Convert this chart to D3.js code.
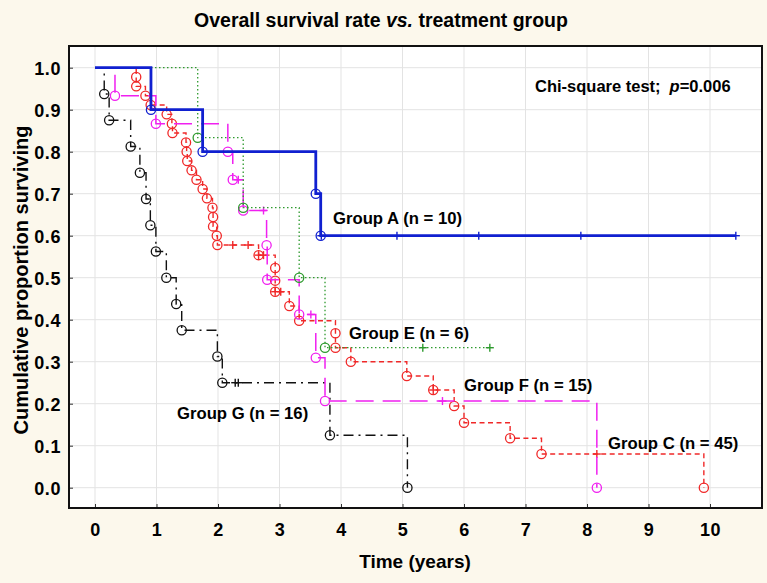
<!DOCTYPE html>
<html>
<head>
<meta charset="utf-8">
<script src="https://cdn.jsdelivr.net/npm/d3@7"></script>
<style>
  html, body { margin: 0; padding: 0; background: #FCF8EC; }
  svg { display: block; }
  text { font-family: "Liberation Sans", Arial, sans-serif; font-weight: bold; fill: #000; }
</style>
</head>
<body>
<svg id="chart" width="767" height="583"></svg>
<script>
// ---------------- data ----------------
const xTickValues = [0, 1, 2, 3, 4, 5, 6, 7, 8, 9, 10];
const yTickValues = [0, 0.1, 0.2, 0.3, 0.4, 0.5, 0.6, 0.7, 0.8, 0.9, 1.0];

// Group A (n = 10)
const groupA_times = [0.91, 1.75, 3.59, 3.67];
const groupA_surv = [0.9, 0.8, 0.7, 0.6];
const groupA_censored = [3.68, 4.91, 6.24, 7.90, 10.42];
const groupA_end = 10.42;

// Group E (n = 6)
const groupE_times = [1.67, 2.41, 3.32, 3.74];
const groupE_surv = [0.8333, 0.6667, 0.5, 0.3333];
const groupE_censored = [5.33, 6.42];
const groupE_end = 6.42;

// Group G (n = 16)
const groupG_times = [0.15, 0.23, 0.58, 0.73, 0.83, 0.90, 0.99, 1.16, 1.32, 1.41, 1.99, 2.07, 3.82, 5.08];
const groupG_surv = [0.9375, 0.875, 0.8125, 0.75, 0.6875, 0.625, 0.5625, 0.5, 0.4375, 0.375, 0.3125, 0.25, 0.125, 0];
const groupG_censored = [2.28, 2.33];
const groupG_end = 5.08;

// Group F (n = 15)
const groupF_times = [0.325, 0.99, 2.16, 2.24, 2.41, 2.79, 2.80, 3.32, 3.59, 3.74, 8.16];
const groupF_surv = [0.9333, 0.8667, 0.8, 0.7333, 0.66, 0.5775, 0.495, 0.4125, 0.3094, 0.2063, 0];
const groupF_censored = [2.33, 2.74, 3.51, 5.65];
const groupF_end = 8.16;

// Group C (n = 45)
const groupC_times = [0.67, 0.67, 0.82, 0.905, 1.165, 1.25, 1.26, 1.48, 1.49, 1.50, 1.57, 1.65, 1.75, 1.82,
  1.91, 1.92, 1.92, 1.98, 1.99, 2.66, 2.93, 2.93, 2.93, 3.16, 3.32, 3.91, 3.91, 4.16, 5.07, 5.50, 5.84,
  6.00, 6.75, 7.26, 9.90];
const groupC_surv = [0.9778, 0.9556, 0.9333, 0.9111, 0.8889, 0.8667, 0.8444, 0.8222, 0.80, 0.7778, 0.7556,
  0.7333, 0.7111, 0.6889, 0.6667, 0.6444, 0.6222, 0.60, 0.5778, 0.5537, 0.523, 0.493, 0.4667, 0.4326,
  0.3976, 0.3676, 0.3333, 0.30, 0.266, 0.2326, 0.1945, 0.1548, 0.1176, 0.0802, 0];
const groupC_censored = [2.24, 2.49, 2.66, 2.74, 2.93, 3.02, 5.50, 8.16];
const groupC_end = 9.90;

const groupLabels = ["Group A (n = 10)", "Group E (n = 6)", "Group F (n = 15)", "Group C (n = 45)", "Group G (n = 16)"];

// ---------------- layout ----------------
const svg = d3.select("#chart");
const W = 767, H = 583;
const frame = { left: 69, right: 762, top: 46, bottom: 508 };

const x = d3.scaleLinear().domain([0, 10]).range([95, 710]);
const y = d3.scaleLinear().domain([0, 1]).range([487.7, 67.7]);

svg.append("rect").attr("width", W).attr("height", H).attr("fill", "#FCF8EC");
svg.append("rect")
  .attr("x", frame.left).attr("y", frame.top)
  .attr("width", frame.right - frame.left).attr("height", frame.bottom - frame.top)
  .attr("fill", "#fff");

// grid
const grid = svg.append("g");
grid.selectAll("line.gx").data(xTickValues).join("line")
  .attr("x1", d => x(d)).attr("x2", d => x(d))
  .attr("y1", frame.top).attr("y2", frame.bottom)
  .attr("stroke", "#E3E3E3").attr("stroke-width", 1);
grid.selectAll("line.gy").data(yTickValues).join("line")
  .attr("y1", d => y(d)).attr("y2", d => y(d))
  .attr("x1", frame.left).attr("x2", frame.right)
  .attr("stroke", "#E3E3E3").attr("stroke-width", 1);

// axes (ticks pointing inward)
const xAxis = d3.axisBottom(x).tickValues(xTickValues).tickSize(-4).tickPadding(16).tickFormat(d3.format("d"));
const yAxis = d3.axisLeft(y).tickValues(yTickValues).tickSize(-4).tickPadding(8).tickFormat(d3.format(".1f"));

const gx = svg.append("g").attr("transform", `translate(0,${frame.bottom})`).call(xAxis);
const gy = svg.append("g").attr("transform", `translate(${frame.left},0)`).call(yAxis);
[gx, gy].forEach(g => {
  g.select(".domain").remove();
  g.selectAll(".tick line").attr("stroke", "#333").attr("stroke-width", 1);
  g.selectAll(".tick text").attr("font-size", 18).attr("font-weight", "bold")
    .attr("font-family", '"Liberation Sans", Arial, sans-serif').attr("fill", "#000")
    .style("letter-spacing", "0.6px");
});
gx.selectAll(".tick text").attr("dy", "0.71em").attr("y", 15);
gy.selectAll(".tick text").attr("x", -8).attr("dy", "0.36em");

// frame border
svg.append("rect")
  .attr("x", frame.left).attr("y", frame.top)
  .attr("width", frame.right - frame.left).attr("height", frame.bottom - frame.top)
  .attr("fill", "none").attr("stroke", "#111").attr("stroke-width", 2);

// ---------------- curves ----------------
function stepPoints(ts, ss, end) {
  const pts = [[0, 1]];
  let cur = 1;
  ts.forEach((t, i) => { pts.push([t, cur]); pts.push([t, ss[i]]); cur = ss[i]; });
  if (end > ts[ts.length - 1]) pts.push([end, cur]);
  return pts;
}
function survAt(ts, ss, t) {
  let s = 1;
  ts.forEach((ti, i) => { if (ti <= t + 1e-9) s = ss[i]; });
  return s;
}
const line = d3.line().x(d => x(d[0])).y(d => y(d[1]));

const groups = [
  { times: groupC_times, surv: groupC_surv, cens: groupC_censored, end: groupC_end, color: "#F02828", width: 1.4, dash: "5,3.5" },
  { times: groupG_times, surv: groupG_surv, cens: groupG_censored, end: groupG_end, color: "#111111", width: 1.4, dash: "10,5,2,5" },
  { times: groupF_times, surv: groupF_surv, cens: groupF_censored, end: groupF_end, color: "#F020F0", width: 1.5, dash: "18,9" },
  { times: groupE_times, surv: groupE_surv, cens: groupE_censored, end: groupE_end, color: "#2E9A2E", width: 1.3, dash: "1.5,2.5" },
  { times: groupA_times, surv: groupA_surv, cens: groupA_censored, end: groupA_end, color: "#1020D0", width: 2.8, dash: null }
];

groups.forEach(g => {
  const layer = svg.append("g");
  layer.append("path")
    .attr("d", line(stepPoints(g.times, g.surv, g.end)))
    .attr("fill", "none").attr("stroke", g.color).attr("stroke-width", g.width)
    .attr("stroke-dasharray", g.dash);
  layer.selectAll("circle").data(g.times.map((t, i) => [t, g.surv[i]])).join("circle")
    .attr("cx", d => x(d[0])).attr("cy", d => y(d[1])).attr("r", 4.6)
    .attr("fill", "none").attr("stroke", g.color).attr("stroke-width", 1.3);
  const cg = layer.selectAll("g.cens").data(g.cens.map(t => [t, survAt(g.times, g.surv, t)])).join("g")
    .attr("transform", d => `translate(${x(d[0])},${y(d[1])})`);
  cg.append("line").attr("x1", -4).attr("x2", 4).attr("stroke", g.color).attr("stroke-width", 1.4);
  cg.append("line").attr("y1", -4).attr("y2", 4).attr("stroke", g.color).attr("stroke-width", 1.4);
});

// ---------------- text ----------------
const title = svg.append("text").attr("x", 381).attr("y", 27).attr("text-anchor", "middle").attr("font-size", 19.5);
title.append("tspan").text("Overall survival rate ");
title.append("tspan").attr("font-style", "italic").text("vs.");
title.append("tspan").text(" treatment group");

svg.append("text").attr("x", 415).attr("y", 568).attr("text-anchor", "middle").attr("font-size", 19)
  .text("Time (years)");
svg.append("text").attr("transform", "translate(28,280) rotate(-90)").attr("text-anchor", "middle").attr("font-size", 20)
  .text("Cumulative proportion surviving");

const chi = svg.append("text").attr("x", 535).attr("y", 92).attr("font-size", 16.5);
chi.append("tspan").text("Chi-square test;");
chi.append("tspan").attr("dx", 9).attr("font-style", "italic").text("p");
chi.append("tspan").text("=0.006");

const labelPos = [[333, 224], [349, 339], [464, 391], [608, 449], [177, 419]];
svg.selectAll("text.glabel").data(groupLabels).join("text")
  .attr("class", "glabel")
  .attr("x", (d, i) => labelPos[i][0]).attr("y", (d, i) => labelPos[i][1])
  .attr("font-size", 16.7).text(d => d);
</script>
</body>
</html>
